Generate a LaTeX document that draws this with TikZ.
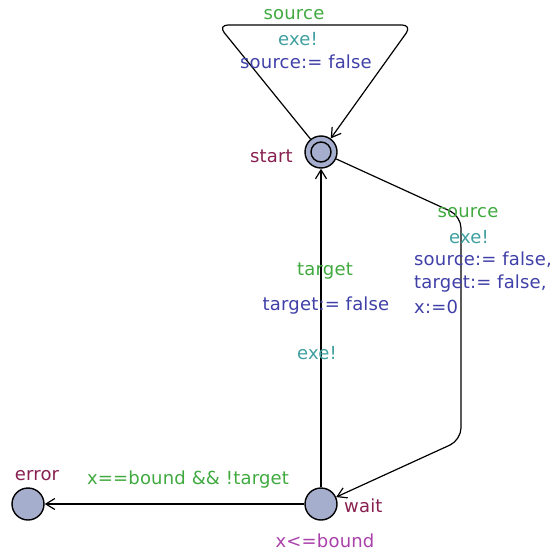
\documentclass[tikz,border=0pt]{standalone}
\usepackage{fontspec}
\setmainfont{DejaVu Sans}[LetterSpace=1]
\usetikzlibrary{positioning}
\usetikzlibrary{arrows.meta}
\definecolor{locfill}{RGB}{166,174,206}
\definecolor{guardcol}{RGB}{64,170,64}
\definecolor{synccol}{RGB}{64,160,160}
\definecolor{assigncol}{RGB}{64,64,168}
\definecolor{namecol}{RGB}{136,32,80}
\definecolor{invcol}{RGB}{170,64,170}

\begin{document}
\begin{tikzpicture}[x=1pt, y=-1pt,
    loc/.style={circle, draw=black, line width=1.4pt, fill=locfill, minimum size=32pt, inner sep=0pt},
    edge/.style={draw=black, line width=1.2pt, -{Straight Barb[length=9pt, width=11pt]}},
    lbl/.style={inner sep=0pt, font=\fontsize{18}{21}\selectfont},
    guard/.style={lbl, text=guardcol},
    sync/.style={lbl, text=synccol},
    assign/.style={lbl, text=assigncol},
    locname/.style={lbl, text=namecol},
    inv/.style={lbl, text=invcol}]
    \useasboundingbox (0,0) rectangle (552,554);

    % Locations
    \node[loc] (start) at (321,152) {};
    \draw[line width=1.4pt] (start.center) circle (10pt);
    \node[loc] (wait) at (321,504) {};
    \node[loc] (error) at (28,504) {};

    \node[locname, anchor=east] at (293,156) {start};
    \node[locname, anchor=west] at (344,506) {wait};
    \node[locname] at (37,476) {error};
    \node[inv] at (325,541) {x<=bound};

    % Self loop on start
    \draw[edge, rounded corners=10] (start) -- (218,25) -- (412,25) -- (start);
    \node[guard] at (294,15) {source};
    \node[sync] at (298,39) {exe!};
    \node[assign] at (306,62) {source:= false};

    % start -> wait
    \draw[edge, rounded corners=12] (start) -- (461,216) -- (461,440) -- (wait);
    \node[guard] at (468,213) {source};
    \node[sync] at (469,237) {exe!};
    \node[assign, anchor=west] at (414,260) {source:= false,};
    \node[assign, anchor=west] at (414,284) {target:= false,};
    \node[assign, anchor=west] at (414,307) {x:=0};

    % wait -> start
    \draw[edge] (wait) -- (start);
    \node[guard] at (325,271) {target};
    \node[assign] at (326,306) {target:= false};
    \node[sync] at (317,353) {exe!};

    % wait -> error
    \draw[edge] (wait) -- (error);
    \node[guard] at (188,480) {x==bound \&\& !target};
\end{tikzpicture}
\end{document}
